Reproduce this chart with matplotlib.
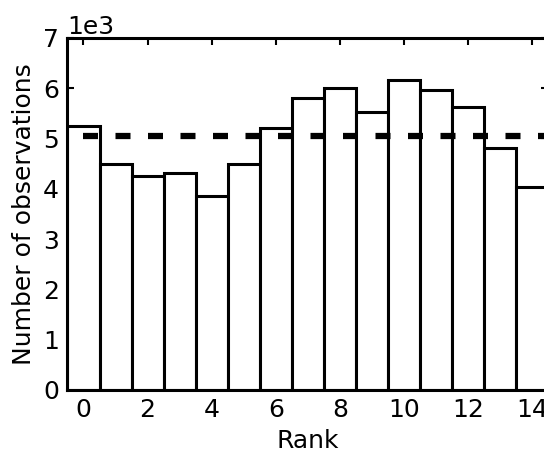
import matplotlib
matplotlib.use("Agg")
import matplotlib.pyplot as plt

ranks = list(range(15))
counts = [5250, 4500, 4260, 4310, 3850, 4500, 5200, 5800, 6010, 5520, 6160, 5960, 5630, 4810, 4040]
mean_level = 5050
xticks = [0, 2, 4, 6, 8, 10, 12, 14]
yticks = [0, 1000, 2000, 3000, 4000, 5000, 6000, 7000]

plt.rcParams['font.family'] = ['DejaVu Sans']
plt.rcParams['font.size'] = 18

fig = plt.figure(figsize=(5.44, 4.55), dpi=100)
ax = fig.add_axes([0.124, 0.143, 0.884, 0.774])

ax.bar(ranks, counts, width=1.0, color='white', edgecolor='black', linewidth=2.2, zorder=2)
ax.plot([0, 15], [mean_level, mean_level], color='black', linewidth=4.5,
        dashes=(2.4, 2.8), zorder=3)

ax.set_xlim(-0.5, 14.5)
ax.set_ylim(0, 7000)
ax.set_xticks(xticks)
ax.set_yticks(yticks)
ax.ticklabel_format(axis='y', style='sci', scilimits=(0, 0))
ax.tick_params(direction='in', top=True, right=True, length=5, width=1.5, pad=6)
for s in ax.spines.values():
    s.set_linewidth(2.2)

ax.set_xlabel('Rank', labelpad=5)
ax.set_ylabel('Number of observations', labelpad=5)

fig.savefig('out.png', dpi=100)
